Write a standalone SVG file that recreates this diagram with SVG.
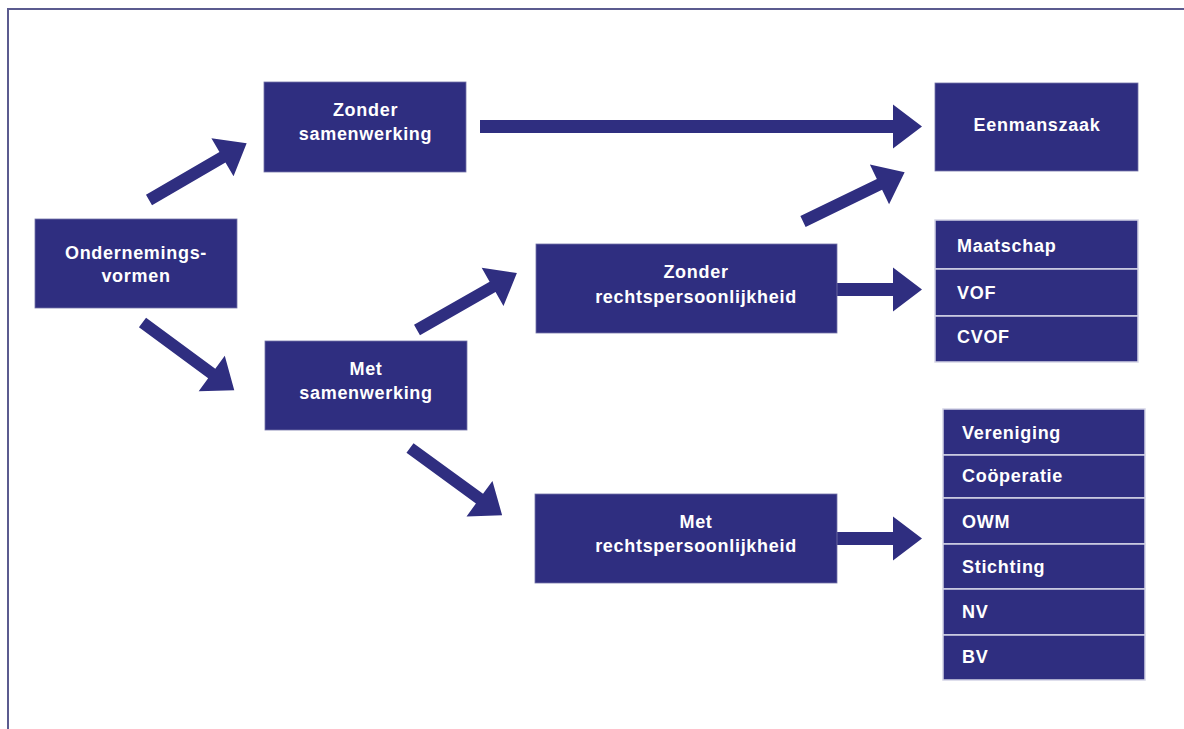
<svg xmlns="http://www.w3.org/2000/svg" width="1184" height="729" viewBox="0 0 1184 729">
<style>
.box{fill:#2f2e80;stroke:#7373a8;stroke-width:0.8}
.cell{fill:#2f2e80;stroke:#d4d4e6;stroke-width:1.5}
.t{font-family:"Liberation Sans",Arial,sans-serif;font-weight:bold;font-size:18px;letter-spacing:0.7px;fill:#ffffff}
.c{text-anchor:middle}
.arr{fill:#2f2e80}
</style>
<rect x="0" y="0" width="1184" height="729" fill="#ffffff"/>
<rect x="8" y="9" width="1200" height="800" fill="none" stroke="#5b5b8f" stroke-width="2"/>
<g id="connectors">
<polygon class="arr" transform="translate(149,200) rotate(-30.2)" points="0,-6 85,-6 85,-22 113,0 85,22 85,6 0,6"/>
<polygon class="arr" transform="translate(142.5,322.5) rotate(36.4)" points="0,-6 86,-6 86,-22 114,0 86,22 86,6 0,6"/>
<polygon class="arr" transform="translate(417,330) rotate(-29.7)" points="0,-6 87,-6 87,-22 115,0 87,22 87,6 0,6"/>
<polygon class="arr" transform="translate(410,448) rotate(36.1)" points="0,-6 86,-6 86,-22 114,0 86,22 86,6 0,6"/>
<polygon class="arr" transform="translate(803,221.5) rotate(-25.9)" points="0,-6 85,-6 85,-22 113,0 85,22 85,6 0,6"/>
<polygon class="arr" transform="translate(480,126.5)" points="0,-6.5 413,-6.5 413,-22 442,0 413,22 413,6.5 0,6.5"/>
<polygon class="arr" transform="translate(836,289.5)" points="0,-6.5 57,-6.5 57,-22 86,0 57,22 57,6.5 0,6.5"/>
<polygon class="arr" transform="translate(836,538.5)" points="0,-6.5 57,-6.5 57,-22 86,0 57,22 57,6.5 0,6.5"/>
</g>
<g id="ondernemingsvormen">
<rect class="box" x="35" y="219" width="202" height="89"/>
<text class="t c" x="136" y="259">Ondernemings-</text>
<text class="t c" x="136" y="282">vormen</text>
</g>
<g id="zonder-samenwerking">
<rect class="box" x="264" y="82" width="202" height="90"/>
<text class="t c" x="365.5" y="116">Zonder</text>
<text class="t c" x="365.5" y="140">samenwerking</text>
</g>
<g id="met-samenwerking">
<rect class="box" x="265" y="341" width="202" height="89"/>
<text class="t c" x="366" y="375">Met</text>
<text class="t c" x="366" y="399">samenwerking</text>
</g>
<g id="zonder-rechtspersoonlijkheid">
<rect class="box" x="536" y="244" width="301" height="89"/>
<text class="t c" x="696" y="278">Zonder</text>
<text class="t c" x="696" y="303">rechtspersoonlijkheid</text>
</g>
<g id="met-rechtspersoonlijkheid">
<rect class="box" x="535" y="494" width="302" height="89"/>
<text class="t c" x="696" y="528">Met</text>
<text class="t c" x="696" y="552">rechtspersoonlijkheid</text>
</g>
<g id="eenmanszaak">
<rect class="box" x="935" y="83" width="203" height="88"/>
<text class="t c" x="1037" y="131">Eenmanszaak</text>
</g>
<g id="lijst-zonder">
<rect class="cell" x="935" y="220" width="203" height="49"/>
<rect class="cell" x="935" y="269" width="203" height="47"/>
<rect class="cell" x="935" y="316" width="203" height="46"/>
<text class="t" x="957" y="252">Maatschap</text>
<text class="t" x="957" y="299">VOF</text>
<text class="t" x="957" y="343">CVOF</text>
</g>
<g id="lijst-met">
<rect class="cell" x="943" y="409" width="202" height="46"/>
<rect class="cell" x="943" y="455" width="202" height="43"/>
<rect class="cell" x="943" y="498" width="202" height="46"/>
<rect class="cell" x="943" y="544" width="202" height="45"/>
<rect class="cell" x="943" y="589" width="202" height="46"/>
<rect class="cell" x="943" y="635" width="202" height="45"/>
<text class="t" x="962" y="439">Vereniging</text>
<text class="t" x="962" y="482">Coöperatie</text>
<text class="t" x="962" y="528">OWM</text>
<text class="t" x="962" y="573">Stichting</text>
<text class="t" x="962" y="618">NV</text>
<text class="t" x="962" y="663">BV</text>
</g>
</svg>
